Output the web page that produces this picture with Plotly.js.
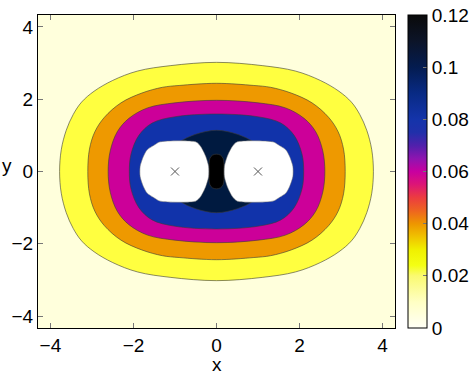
<!DOCTYPE html>
<html>
<head>
<meta charset="utf-8">
<script src="https://cdn.plot.ly/plotly-3.0.1.min.js"></script>
<style>
    body { margin: 0; background: #fff; }
    #contourPlot { width: 475px; height: 377px; }
</style>
</head>
<body>
<div id="contourPlot"></div>
<script>
var config = { responsive: false, displayModeBar: false, staticPlot: true }

// contour levels and the colour of the band above each one
var levels = [0.02, 0.04, 0.06, 0.08, 0.1, 0.12];
var bandColors = ['#FFFF40', '#EE9900', '#CC0099', '#1133AA', '#001A40', '#000000'];
var lowColor = '#FFFFDC';

// one quarter of each contour line (x >= 0, y >= 0)
var c02x = [0, 1.1, 1.9, 2.5, 2.95, 3.25, 3.45, 3.62, 3.74, 3.78];
var c02y = [3.02, 2.93, 2.78, 2.52, 2.22, 1.92, 1.58, 1.14, 0.6, 0];
var c04x = [0, 0.9, 1.3, 1.8, 2.3, 2.7, 2.93, 3.06, 3.1];
var c04y = [2.44, 2.38, 2.33, 2.17, 1.9, 1.5, 1.1, 0.62, 0];
var c06x = [0, 1.0, 1.66, 2.11, 2.39, 2.56, 2.61];
var c06y = [1.97, 1.9, 1.76, 1.47, 1.1, 0.57, 0];
var c08x = [0, 1.02, 1.55, 1.87, 2.06, 2.1];
var c08y = [1.59, 1.51, 1.34, 1.0, 0.48, 0];
var c10x = [0, 0.5, 0.9, 1.15, 1.3];
var c10y = [1.14, 1.03, 0.81, 0.55, 0];
var c12x = [0, 0.1, 0.16, 0.18, 0.18];
var c12y = [0.48, 0.45, 0.36, 0.22, 0];

// blank (masked) region round the right-hand source, the left one is its mirror
var holeX = [0.5, 0.38, 0.26, 0.19, 0.19, 0.26, 0.38, 0.5, 1.36, 1.5, 1.67, 1.76, 1.84, 1.84, 1.76, 1.67, 1.5, 1.36, 0.5];
var holeY = [0.82, 0.69, 0.42, 0.14, -0.14, -0.42, -0.69, -0.82, -0.82, -0.73, -0.6, -0.42, -0.14, 0.14, 0.42, 0.6, 0.73, 0.82, 0.82];

// source positions
var sourceX = [-1, 1];
var sourceY = [0, 0];

// colour bar
var barTicks = [0, 0.02, 0.04, 0.06, 0.08, 0.1, 0.12];
var barLabels = ['0', '0.02', '0.04', '0.06', '0.08', '0.1', '0.12'];
var barScale = [
    [0, '#FFFFF6'], [0.083, '#FFFFC4'], [0.167, '#FAFA70'], [0.2, '#F4FF14'],
    [0.25, '#F0F000'], [0.29, '#F0C400'], [0.333, '#EE9600'], [0.375, '#EE6420'],
    [0.417, '#EC3C40'], [0.46, '#DC1478'], [0.5, '#C800A0'], [0.54, '#9014B0'],
    [0.583, '#5020AC'], [0.625, '#2030AA'], [0.667, '#1434AA'], [0.75, '#082A84'],
    [0.833, '#041C50'], [0.917, '#0C1428'], [1, '#0A0A0A']
];

// build a closed line from a quarter using the symmetry in x and y
function closeLoop(qx, qy) {
    var xs = [], ys = [];
    var n = qx.length, i;
    for (i = 0; i < n; i++) { xs.push(qx[i]); ys.push(qy[i]); }
    for (i = n - 2; i >= 0; i--) { xs.push(qx[i]); ys.push(-qy[i]); }
    for (i = 1; i < n; i++) { xs.push(-qx[i]); ys.push(-qy[i]); }
    for (i = n - 2; i >= 0; i--) { xs.push(-qx[i]); ys.push(qy[i]); }
    return { x: xs, y: ys };
}

var quarters = [[c02x, c02y], [c04x, c04y], [c06x, c06y], [c08x, c08y], [c10x, c10y], [c12x, c12y]];

var data = [];
quarters.forEach((q, k) => {
    var loop = closeLoop(q[0], q[1]);
    data.push({
        x: loop.x,
        y: loop.y,
        type: 'scatter',
        mode: 'lines',
        fill: 'toself',
        fillcolor: bandColors[k],
        line: { color: '#3a3a3a', width: 0.6, shape: 'spline', smoothing: 1 },
        name: String(levels[k]),
        hoverinfo: 'skip',
        showlegend: false
    });
});

// the two blank regions
[1, -1].forEach(side => {
    data.push({
        x: holeX.map(v => side * v),
        y: holeY,
        type: 'scatter',
        mode: 'lines',
        fill: 'toself',
        fillcolor: '#FFFFFF',
        line: { color: '#6a6a6a', width: 0.5, shape: 'spline', smoothing: 0.7 },
        hoverinfo: 'skip',
        showlegend: false
    });
});

// source markers
data.push({
    x: sourceX,
    y: sourceY,
    type: 'scatter',
    mode: 'markers',
    marker: { symbol: 'x-thin', size: 8, line: { color: '#555', width: 1 } },
    hoverinfo: 'skip',
    showlegend: false
});

// empty trace that only carries the colour bar
data.push({
    x: [null, null],
    y: [null, null],
    type: 'scatter',
    mode: 'markers',
    hoverinfo: 'skip',
    showlegend: false,
    marker: {
        color: [0, 0.12],
        cmin: 0,
        cmax: 0.12,
        colorscale: barScale,
        showscale: true,
        colorbar: {
            x: 1.0364,
            xanchor: 'left',
            xpad: 0,
            y: 0.5,
            yanchor: 'middle',
            len: 1,
            ypad: 0,
            thickness: 19,
            outlinewidth: 1,
            outlinecolor: '#000',
            tickvals: barTicks,
            ticktext: barLabels,
            ticks: 'inside',
            ticklen: 4,
            tickcolor: '#777',
            tickfont: { size: 19, color: '#000' }
        }
    }
});

var font = { family: 'Liberation Sans, Arial, sans-serif', size: 19, color: '#000' };

var layout = {
    width: 475,
    height: 377,
    font: font,
    paper_bgcolor: '#FFFFFF',
    plot_bgcolor: lowColor,
    margin: { l: 38, r: 80, t: 15, b: 49, pad: 0, autoexpand: false },
    xaxis: {
        range: [-4.3, 4.3],
        tickvals: [-4, -2, 0, 2, 4],
        showgrid: false,
        zeroline: false,
        showline: true,
        mirror: 'ticks',
        linecolor: '#000',
        linewidth: 1,
        ticks: 'inside',
        ticklen: 5,
        tickcolor: '#777'
    },
    yaxis: {
        range: [-4.33, 4.33],
        tickvals: [-4, -2, 0, 2, 4],
        showgrid: false,
        zeroline: false,
        showline: true,
        mirror: 'ticks',
        linecolor: '#000',
        linewidth: 1,
        ticks: 'inside',
        ticklen: 5,
        tickcolor: '#777'
    },
    // axis labels as annotations so the y label stays upright
    annotations: [
        { text: 'x', xref: 'paper', yref: 'paper', x: 0.5, y: -0.118, xanchor: 'center', yanchor: 'middle', showarrow: false, font: font },
        { text: 'y', xref: 'paper', yref: 'paper', x: -0.088, y: 0.5185, xanchor: 'center', yanchor: 'middle', showarrow: false, font: font }
    ]
};

Plotly.newPlot('contourPlot', data, layout, config);
</script>
</body>
</html>
